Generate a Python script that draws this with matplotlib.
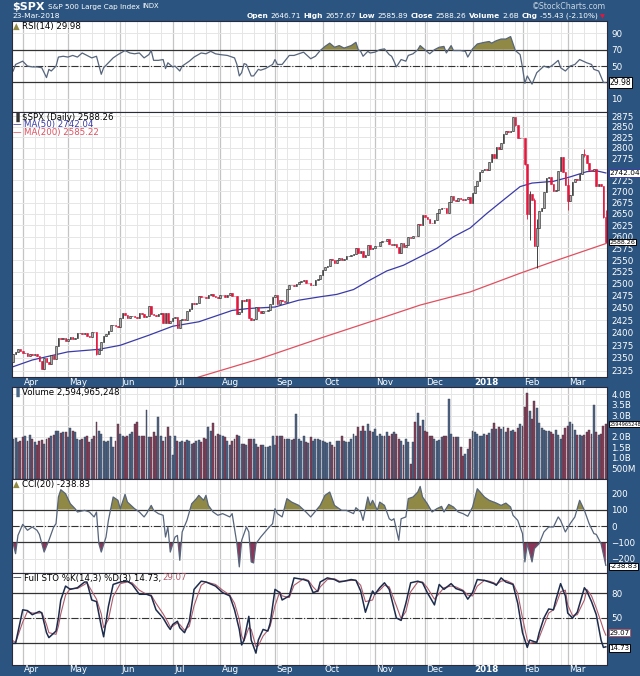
import numpy as np
import pandas as pd
import matplotlib
matplotlib.use("Agg")
import matplotlib.pyplot as plt
from matplotlib import transforms
from matplotlib.ticker import NullLocator

BG = "#2b5580"
OLIVE = "#8f8945"
MAROON = "#8c3558"
GRID_MAJ = "#c4c4c4"
GRID_MIN = "#e6e6e6"

# ---------------- data ----------------
holidays = ["2017-04-14", "2017-05-29", "2017-07-04", "2017-09-04", "2017-11-23",
            "2017-12-25", "2018-01-01", "2018-01-15", "2018-02-19"]
sessions = pd.bdate_range("2017-03-28", "2018-03-23")
sessions = sessions[~sessions.isin(pd.to_datetime(holidays))]

prev_close0 = 2341.59
close_2017 = [
    2358.57, 2361.13, 2368.06, 2362.72,
    2358.84, 2360.16, 2352.95, 2357.49, 2355.54, 2357.16, 2353.78, 2344.93, 2328.95, 2349.01,
    2342.19, 2338.17, 2355.84, 2348.69, 2374.15, 2388.61, 2387.45, 2388.77, 2384.20,
    2388.33, 2391.17, 2388.13, 2389.52, 2399.29, 2399.38, 2396.92, 2399.63, 2394.44, 2390.90,
    2402.32, 2400.67, 2357.03, 2365.72, 2381.73, 2394.02, 2398.42, 2404.39, 2415.07, 2415.82,
    2412.91, 2411.80,
    2430.06, 2439.07, 2436.10, 2429.33, 2433.14, 2433.79, 2431.77, 2429.39, 2440.35, 2437.92,
    2432.46, 2433.15, 2453.46, 2437.03, 2435.61, 2434.50, 2438.30, 2439.07, 2419.38, 2440.69,
    2419.70, 2423.41,
    2429.01, 2432.54, 2409.75, 2425.18, 2427.43, 2425.53, 2443.25, 2447.83, 2459.27, 2459.14,
    2460.61, 2473.83, 2473.45, 2472.54, 2469.91, 2477.13, 2477.83, 2475.42, 2472.10, 2470.30,
    2476.35, 2477.57, 2472.16, 2476.83, 2480.91, 2474.92, 2474.02, 2438.21, 2441.32, 2465.84,
    2464.61, 2468.11, 2430.01, 2425.55, 2428.37, 2452.51, 2444.04, 2438.97, 2443.05, 2444.24,
    2446.30, 2457.59, 2471.65,
    2476.55, 2457.85, 2465.54, 2465.10, 2461.43, 2488.11, 2496.48, 2498.37, 2495.62, 2500.23,
    2503.87, 2506.65, 2508.24, 2500.60, 2502.22, 2496.66, 2496.84, 2507.04, 2510.06, 2519.36,
    2529.12, 2534.58, 2537.74, 2552.07, 2549.33, 2544.73, 2550.64, 2555.24, 2550.93, 2553.17,
    2557.64, 2559.36, 2561.26, 2562.10, 2575.21, 2564.98, 2569.13, 2557.15, 2560.40, 2581.07,
    2572.83, 2575.26,
    2579.36, 2579.85, 2587.84, 2591.13, 2590.64, 2594.38, 2584.62, 2582.30, 2584.84, 2578.87,
    2564.62, 2585.64, 2578.85, 2582.14, 2599.03, 2597.08, 2602.42, 2601.42, 2627.04, 2626.07,
    2647.58,
    2642.22, 2639.44, 2629.57, 2629.27, 2636.98, 2651.50, 2659.99, 2664.11, 2662.85, 2652.01,
    2675.81, 2690.16, 2681.47, 2679.25, 2684.57, 2683.34, 2680.50, 2682.62, 2687.54, 2673.61,
]
close_2018 = [
    2695.81, 2713.06, 2723.99, 2743.15, 2747.71, 2751.29, 2748.23, 2767.56, 2786.24, 2776.42,
    2802.56, 2798.03, 2810.30, 2832.97, 2839.13, 2837.54, 2839.25, 2872.87, 2853.53, 2822.43,
    2823.81,
    2821.98, 2762.13, 2648.94, 2695.14, 2681.66, 2581.00, 2619.55, 2656.00, 2662.94, 2698.63,
    2731.20, 2732.22, 2716.26, 2701.33, 2703.96, 2747.30, 2779.60, 2744.28, 2713.83,
    2677.67, 2691.25, 2720.94, 2728.12, 2726.80, 2738.97, 2786.57, 2783.02, 2765.31, 2749.48,
    2747.33, 2752.01, 2712.92, 2716.94, 2711.93, 2643.69, 2588.26,
]

wick_dates = ["2017-05-17", "2017-08-10", "2017-08-17", "2018-01-26", "2018-01-29", "2018-02-02",
              "2018-02-05", "2018-02-06", "2018-02-08", "2018-02-09", "2018-03-01", "2018-03-12",
              "2018-03-22", "2018-03-23"]
wick_high = [2400.0, 2475.0, 2465.0, 2872.9, 2870.6, 2808.9, 2763.4, 2701.0, 2685.3, 2638.7,
             2730.9, 2797.0, 2703.4, 2657.7]
wick_low = [2356.2, 2437.8, 2430.0, 2842.2, 2851.5, 2759.9, 2638.2, 2593.1, 2580.6, 2532.7,
            2659.7, 2779.0, 2641.6, 2585.9]

# volume in billions, one bar per session
vol_a = [1.90, 1.95, 1.74, 1.82, 1.98, 2.01, 1.82, 2.10, 1.90, 1.74, 1.59, 1.82,
         1.85, 1.67, 1.90, 1.95, 2.05, 2.10, 2.29, 2.29, 2.16, 2.21, 2.21, 1.98,
         2.41, 2.26, 2.21, 1.90, 1.85, 1.90, 1.98, 2.01, 1.74, 1.90, 2.05, 2.68,
         2.29, 2.13, 1.82, 1.74, 1.82, 1.98, 1.51, 1.82, 2.60, 2.13, 2.05, 1.98,
         2.05, 2.13, 2.21, 2.60, 2.68, 2.05, 2.05, 2.05, 3.25, 1.98, 1.98, 2.21,
         2.05, 2.94, 2.05, 1.82, 1.98, 2.44, 2.05, 1.12, 2.05, 1.82, 1.74, 1.82,
         1.74, 1.85, 1.82, 1.67, 1.70, 1.82, 1.85, 1.74, 1.95, 1.90, 2.44, 2.29,
         2.63, 2.05, 2.13, 2.10, 2.05, 1.98, 1.82, 1.59, 1.82, 1.90, 2.10, 2.05,
         1.67, 1.67, 1.59, 1.90, 1.90, 1.90, 1.67, 1.51, 1.59, 1.63, 1.51, 1.51,
         1.54, 2.05, 1.59, 2.05, 2.01, 2.05, 1.90, 1.90, 1.90, 1.85, 1.90, 3.07,
         1.90, 1.82, 2.05, 1.74, 1.70, 1.98, 1.82, 1.90, 1.90]
vol_b = [1.85, 1.82, 1.74, 1.70, 1.74, 1.59, 1.51, 1.79, 1.82, 2.05,
         1.82, 1.77, 1.77, 1.90, 2.13, 2.05, 2.44, 2.26, 2.52, 2.29,
         2.60, 2.29, 2.21, 2.37, 2.05, 2.13, 2.05, 2.05, 2.21, 2.05,
         2.13, 2.21, 2.13, 1.90, 1.82, 1.59, 1.90, 1.74, 0.73, 1.74,
         2.68, 3.14, 2.52, 2.79, 2.29, 2.21, 2.01, 2.05, 1.90, 1.82,
         1.85, 1.98, 2.05, 2.01, 3.77, 2.13, 1.98, 1.98, 1.98, 1.51,
         1.07, 1.20, 1.43, 1.90, 2.26, 2.21, 2.13, 2.01, 2.05, 2.13,
         2.10, 2.16, 2.37, 2.63, 2.37, 2.44, 2.37, 2.44, 2.21, 2.41,
         2.29, 2.32, 2.21]
vol_c = [2.40, 2.60, 2.50, 3.40, 4.05, 3.20, 2.85, 3.70, 3.35, 2.65,
         2.40, 2.30, 2.25, 2.25, 2.20, 2.15, 2.30, 2.10, 1.90, 2.10,
         2.40, 2.50, 2.70, 2.60, 2.30, 2.10, 2.10, 2.05, 2.10, 2.20,
         2.30, 2.15, 3.50, 2.20, 2.10, 2.15, 2.50, 2.59]

# indicator readings: (session number, value)
ma50_pts = [(0, 2333), (8, 2346), (23, 2362), (36, 2367), (45, 2375), (57, 2395), (67, 2413),
            (78, 2422), (92, 2445), (99, 2449), (110, 2452), (120, 2466), (129, 2473),
            (136, 2478), (143, 2488), (150, 2508), (157, 2527), (164, 2539), (171, 2557),
            (178, 2575), (185, 2600), (192, 2619), (199, 2651), (206, 2681), (213, 2711),
            (218, 2719), (227, 2723), (234, 2733), (241, 2745), (245, 2747), (249, 2742.04)]
ma200_pts = [(70, 2300), (78, 2313), (104, 2349), (129, 2389), (150, 2422), (171, 2456),
             (192, 2483), (213, 2522), (227, 2547), (249, 2585.22)]
rsi_pts = [(0, 44), (1, 52), (4, 56), (6, 50), (8, 49), (10, 49), (12, 48), (14, 36), (15, 46),
           (16, 44), (18, 50), (19, 61), (21, 62), (23, 61), (25, 63), (27, 61), (29, 66),
           (31, 63), (33, 60), (35, 62), (37, 40), (38, 48), (40, 54), (42, 60), (44, 64),
           (47, 69), (49, 66), (51, 65), (53, 66), (55, 60), (57, 64), (58, 69), (59, 57),
           (61, 57), (63, 58), (64, 47), (65, 54), (67, 49), (68, 50), (70, 44), (71, 50),
           (74, 56), (76, 61), (79, 66), (81, 65), (83, 68), (85, 65), (87, 64), (90, 63),
           (93, 60), (94, 52), (95, 38), (96, 42), (97, 53), (98, 52), (100, 38), (101, 38),
           (103, 46), (104, 45), (106, 47), (109, 52), (110, 58), (111, 52), (113, 52),
           (116, 63), (118, 63), (122, 67), (125, 59), (127, 62), (129, 69), (131, 74),
           (133, 78), (135, 73), (137, 75), (139, 72), (142, 75), (144, 79), (145, 70),
           (146, 68), (147, 62), (149, 68), (150, 66), (152, 67), (154, 70), (156, 71),
           (158, 64), (159, 62), (160, 56), (161, 49), (163, 58), (165, 56), (166, 63),
           (168, 65), (170, 70), (171, 75), (173, 70), (175, 65), (177, 70), (179, 73),
           (181, 74), (182, 66), (184, 75), (185, 69), (188, 69), (190, 68), (191, 61),
           (193, 71), (195, 77), (198, 79), (200, 80), (201, 78), (203, 81), (205, 83),
           (207, 83), (209, 86), (211, 69), (213, 64), (214, 48), (215, 29), (216, 38),
           (218, 28), (220, 42), (223, 50), (225, 48), (227, 52), (229, 57), (230, 48),
           (232, 44), (234, 50), (236, 52), (238, 58), (241, 54), (243, 52), (244, 46),
           (246, 44), (248, 30), (249, 29.98)]
cci_pts = [(0, -107), (1, -168), (2, -57), (4, 10), (6, -26), (8, -6), (10, -26), (11, -51),
           (13, -158), (15, -87), (17, -6), (18, 14), (19, 176), (20, 220), (22, 196), (24, 135),
           (26, 105), (27, 85), (30, 95), (32, 85), (34, 55), (35, 85), (36, -107), (37, -158),
           (39, -67), (40, 34), (42, 176), (44, 156), (45, 105), (47, 192), (48, 145), (51, 105),
           (53, 85), (55, 55), (56, 75), (58, 125), (59, 95), (61, 75), (63, 65), (64, -67),
           (65, -6), (66, -158), (68, -67), (69, -57), (70, -208), (71, -36), (73, 34),
           (75, 135), (77, 166), (78, 186), (80, 156), (81, 186), (82, 125), (84, 85), (86, 65),
           (88, 75), (91, 55), (92, 75), (94, -107), (95, -248), (96, -87), (98, -6), (99, -36),
           (100, -218), (101, -224), (102, -107), (104, -67), (107, -16), (109, 14), (110, 105),
           (111, 75), (113, 55), (115, 166), (117, 145), (120, 125), (123, 85), (125, 55),
           (129, 125), (131, 186), (133, 206), (135, 125), (138, 95), (140, 95), (143, 75),
           (144, 111), (146, 85), (147, 34), (149, 176), (150, 125), (151, 156), (153, 95),
           (154, 145), (156, 125), (158, 44), (159, 34), (160, 44), (162, -87), (163, 44),
           (165, 55), (166, 166), (168, 176), (170, 206), (171, 240), (172, 176), (174, 135),
           (176, 85), (178, 105), (180, 119), (181, 85), (183, 131), (185, 115), (187, 85),
           (189, 75), (191, 59), (193, 115), (195, 226), (198, 176), (200, 156), (203, 139),
           (205, 125), (207, 139), (209, 115), (210, 65), (212, 34), (214, -46), (215, -218),
           (216, -107), (218, -218), (219, -137), (221, -107), (223, -36), (225, -6),
           (227, -6), (229, 55), (230, 34), (232, -36), (234, 14), (236, 55), (238, 156),
           (240, 95), (242, 14), (244, -46), (245, -51), (247, -107), (249, -238.83)]
sto_day = [0, 1, 4, 6, 8, 11, 12, 14, 15, 18, 19, 20, 22, 24, 27, 30, 31, 33, 35, 37, 38, 40,
           42, 45, 48, 50, 53, 56, 58, 60, 63, 65, 66, 67, 69, 70, 72, 74, 76, 79, 81, 85, 88,
           91, 93, 95, 96, 97, 99, 100, 102, 103, 105, 107, 108, 110, 112, 113, 116, 118, 122,
           124, 126, 128, 129, 132, 135, 137, 139, 142, 144, 146, 148, 151, 152, 154, 156, 158,
           161, 163, 165, 167, 170, 172, 174, 177, 179, 181, 184, 186, 189, 191, 193, 195, 198,
           200, 202, 203, 205, 207, 210, 212, 214, 216, 217, 220, 221, 223, 225, 227, 228, 230,
           232, 233, 235, 237, 240, 241, 243, 245, 247, 248, 249]
sto_k = [19, 19, 60, 59, 54, 58, 56, 32, 26, 34, 50, 72, 89, 85, 87, 94, 94, 72, 70, 40, 27, 64,
         91, 94, 95, 91, 79, 79, 77, 60, 50, 40, 36, 42, 46, 38, 32, 46, 85, 95, 94, 89, 81,
         77, 60, 36, 17, 23, 52, 23, 7, 23, 36, 34, 44, 85, 81, 72, 77, 99, 97,
         95, 81, 83, 94, 99, 97, 94, 95, 97, 96, 83, 57, 83, 79, 87, 93, 85,
         50, 47, 68, 93, 95, 93, 81, 66, 91, 85, 92, 86, 83, 73, 81, 97, 96,
         94, 92, 90, 99, 94, 91, 68, 32, 14, 23, 20, 32, 50, 61, 60, 72, 92,
         77, 56, 50, 57, 87, 83, 70, 54, 23, 14, 14.73]
sto_d = [22, 20, 45, 58, 56, 56, 57, 42, 32, 30, 40, 55, 78, 86, 86, 91, 93, 83, 73, 55, 38, 48,
         76, 92, 94, 93, 84, 79, 78, 68, 55, 45, 39, 40, 44, 42, 35, 40, 65, 90, 94, 91, 84,
         78, 68, 48, 28, 22, 38, 36, 15, 16, 28, 35, 40, 65, 82, 77, 75, 90, 98,
         96, 88, 82, 88, 97, 98, 95, 95, 96, 96, 90, 70, 72, 80, 84, 90, 88,
         65, 49, 58, 82, 94, 94, 87, 73, 80, 87, 89, 88, 84, 78, 77, 89, 96,
         95, 93, 91, 95, 96, 92, 80, 50, 23, 19, 21, 26, 41, 56, 60, 66, 82,
         84, 66, 53, 54, 72, 85, 77, 62, 45, 36, 29.07]

# ---------------- derived for drawing ----------------
close = np.array(close_2017 + close_2018)
volume_b = np.array(vol_a + vol_b + vol_c)
n = len(sessions)
x = np.arange(n)
opn = np.r_[prev_close0, close[:-1]]
up = close >= opn
hi = np.maximum(opn, close)
lo = np.minimum(opn, close)
for d, h, l in zip(wick_dates, wick_high, wick_low):
    i = sessions.get_loc(pd.Timestamp(d))
    hi[i] = max(hi[i], h)
    lo[i] = min(lo[i], l)

month_idx = [0] + [i for i in range(1, n) if sessions[i].month != sessions[i - 1].month]
month_idx = [i for i in month_idx if sessions[i].day <= 5]
week_idx = [i for i in range(1, n) if sessions[i].weekday() < sessions[i - 1].weekday()]

# ---------------- figure ----------------
W, H = 640, 676
fig = plt.figure(figsize=(6.4, 6.76), dpi=100, facecolor=BG)
renderer = fig.canvas.get_renderer()


def panel(top, bottom):
    ax = fig.add_axes([12 / W, 1 - bottom / H, 595 / W, (bottom - top) / H])
    ax.set_facecolor("white")
    ax.set_xlim(-0.5, n - 0.5)
    ax.set_xticks(month_idx)
    ax.set_xticks(week_idx, minor=True)
    ax.tick_params(axis="x", which="both", length=0, labelbottom=False)
    ax.grid(True, axis="x", which="major", color=GRID_MAJ, lw=0.9)
    ax.grid(True, axis="x", which="minor", color=GRID_MIN, lw=0.7)
    ax.grid(True, axis="y", which="major", color=GRID_MIN, lw=0.7)
    ax.set_axisbelow(True)
    ax.yaxis.tick_right()
    ax.tick_params(axis="y", length=0, pad=3, labelsize=6.3, labelcolor="white")
    for s in ax.spines.values():
        s.set_color("#2a2a3a")
        s.set_linewidth(0.8)
    return ax


def tag(ax, y, s, ec="black", fs=5.5):
    tr = transforms.blended_transform_factory(ax.transAxes, ax.transData)
    ax.text(1.004, y, s, transform=tr, fontsize=fs, va="center", ha="left", color="black",
            bbox=dict(boxstyle="square,pad=0.1", fc="white", ec=ec, lw=0.7),
            clip_on=False, zorder=10)


def row(x0, y, pieces, gap=3, right=None, fit=None):
    """place text pieces one after another, in figure pixels"""
    texts = [fig.text(0, 1 - y / H, s, va="center", ha="left", **kw) for s, kw in pieces]
    widths = [t.get_window_extent(renderer=renderer).width for t in texts]
    total = sum(widths) + gap * (len(texts) - 1)
    if fit is not None and total > fit:
        k = fit / total
        for t in texts:
            t.set_fontsize(t.get_fontsize() * k)
        widths = [t.get_window_extent(renderer=renderer).width for t in texts]
        total = sum(widths) + gap * (len(texts) - 1)
    px = x0 if right is None else right - total
    for t, w in zip(texts, widths):
        t.set_x(px / W)
        px += w + gap
    return texts


def legend(top, lines):
    for k, parts in enumerate(lines):
        row(13, top + 5 + 8 * k, [(s, dict(fontsize=6.2, color=c)) for s, c in parts], gap=2)


ax_rsi = panel(21, 112)
ax_px = panel(112, 377)
ax_vol = panel(387, 479)
ax_cci = panel(479, 573)
ax_sto = panel(573, 665)

# RSI
rx, ry = map(np.array, zip(*rsi_pts))
ax_rsi.set_ylim(-6, 105)
ax_rsi.set_yticks([10, 30, 50, 70, 90])
ax_rsi.set_yticklabels(["10", "", "50", "70", "90"])
ax_rsi.fill_between(rx, ry, 70, where=ry >= 70, interpolate=True, color=OLIVE, lw=0)
ax_rsi.axhline(70, color="#333333", lw=0.9)
ax_rsi.axhline(30, color="#333333", lw=0.9)
ax_rsi.axhline(50, color="#333333", lw=0.8, ls="-.")
ax_rsi.plot(rx, ry, color="#56657c", lw=0.9)
tag(ax_rsi, 29.98, "29.98")
legend(21, [[("\u25b2", OLIVE), ("RSI(14) 29.98", "black")]])

# price
ax_px.set_yscale("log")
ax_px.set_ylim(2313, 2885)
pt = np.arange(2325, 2876, 25)
ax_px.set_yticks(pt)
ax_px.set_yticklabels(["" if v == 2750 else str(v) for v in pt])
ax_px.yaxis.set_minor_locator(NullLocator())
ma50x, ma50y = zip(*ma50_pts)
ma200x, ma200y = zip(*ma200_pts)
ax_px.plot(ma200x, ma200y, color="#e0505f", lw=0.9)
ax_px.plot(ma50x, ma50y, color="#3b3ba8", lw=0.9)
body_col = np.where(up, "#222222", "#e3173e")
face_col = np.where(up, "#a8a8a8", "#e3173e")
ax_px.vlines(x, lo, hi, colors=body_col, lw=0.6, zorder=3)
ax_px.bar(x, np.maximum(np.abs(close - opn), 0.8), bottom=np.minimum(opn, close),
          width=0.68, color=face_col, edgecolor=body_col, linewidth=0.4, zorder=4)
tag(ax_px, 2742.04, "2742.04", ec="#3b3ba8", fs=5.3)
tag(ax_px, 2588.26, "2588.26", fs=4.6)
legend(112, [[("\u2590", "#333333"), ("$SPX (Daily) 2588.26", "black")],
             [("\u2014", "#3b3ba8"), ("MA(50) 2742.04", "#3b3ba8")],
             [("\u2014", "#e0505f"), ("MA(200) 2585.22", "#e0505f")]])

# volume
ax_vol.set_ylim(0, 4.35)
vt = [0.5, 1.0, 1.5, 2.0, 2.5, 3.0, 3.5, 4.0]
ax_vol.set_yticks(vt)
ax_vol.set_yticklabels(["500M", "1.0B", "1.5B", "2.0B", "", "3.0B", "3.5B", "4.0B"])
vcol = np.where(up, "#4b6788", "#8b3f57")
ax_vol.bar(x, volume_b, width=0.8, color=vcol, edgecolor="#3a3a4a", linewidth=0.3)
tag(ax_vol, 2.595, "2594965248", fs=3.6)
legend(387, [[("\u2590", "#4b6788"), ("Volume 2,594,965,248", "black")]])

# CCI
cx, cy = map(np.array, zip(*cci_pts))
ax_cci.set_ylim(-285, 285)
ax_cci.set_yticks([-200, -100, 0, 100, 200])
ax_cci.fill_between(cx, cy, 100, where=cy >= 100, interpolate=True, color=OLIVE, lw=0)
ax_cci.fill_between(cx, cy, -100, where=cy <= -100, interpolate=True, color=MAROON, lw=0)
ax_cci.axhline(100, color="#333333", lw=0.9)
ax_cci.axhline(-100, color="#333333", lw=0.9)
ax_cci.axhline(0, color="#333333", lw=0.8, ls="-.")
ax_cci.plot(cx, cy, color="#56657c", lw=0.9)
tag(ax_cci, -245, "-238.83", fs=5.2)
legend(479, [[("\u25b2", OLIVE), ("CCI(20) -238.83", "black")]])

# full stochastics
ax_sto.set_ylim(-7.5, 105)
ax_sto.set_yticks([20, 50, 80])
ax_sto.set_yticklabels(["", "50", "80"])
ax_sto.axhline(80, color="#333333", lw=0.9)
ax_sto.axhline(20, color="#333333", lw=0.9)
ax_sto.axhline(50, color="#333333", lw=0.8, ls="-.")
ax_sto.plot(sto_day, sto_d, color="#b05a6a", lw=0.8)
ax_sto.plot(sto_day, sto_k, color="#1c2c4c", lw=1.1)
tag(ax_sto, 32, "29.07", ec="#b05a6a", fs=5.0)
tag(ax_sto, 13.5, "14.73", fs=5.0)
legend(573, [[("\u2014", "#1c2c4c"), ("Full STO %K(14,3) %D(3) 14.73,", "black"),
              ("29.07", "#b05a6a")]])

# month labels in the two date bands
for ax, yoff in [(ax_px, -0.019), (ax_sto, -0.054)]:
    tr = transforms.blended_transform_factory(ax.transData, ax.transAxes)
    for i in month_idx:
        lab = "2018" if sessions[i].month == 1 else sessions[i].strftime("%b")
        ax.text(i + 0.6, yoff, lab, transform=tr, fontsize=6.3, color="white", va="center",
                ha="left", fontweight="bold" if lab == "2018" else "normal", clip_on=False)

# header
white = dict(color="white")
row(12, 6.5, [("$SPX", dict(fontsize=8, fontweight="bold", **white)),
              ("S&P 500 Large Cap Index", dict(fontsize=5.2, **white)),
              ("INDX", dict(fontsize=4.9, **white))], gap=3)
row(12, 16.5, [("23-Mar-2018", dict(fontsize=5.4, **white))])
fig.text(606 / W, 1 - 6.5 / H, "\u00a9StockCharts.com", va="center", ha="right",
         color="#c9d5e2", fontsize=5.6)
stats = [("Open", True), ("2646.71", False), ("High", True), ("2657.67", False),
         ("Low", True), ("2585.89", False), ("Close", True), ("2588.26", False),
         ("Volume", True), ("2.6B", False), ("Chg", True), ("-55.43 (-2.10%)", False)]
row(0, 16, [(s, dict(fontsize=5.8, fontweight="bold" if b else "normal", **white))
            for s, b in stats], gap=2.5, right=598, fit=345)
fig.text(600 / W, 1 - 16.5 / H, "\u25bc", va="center", ha="left", color="#e3173e", fontsize=4.5)

fig.savefig("out.png", dpi=100, facecolor=BG)
